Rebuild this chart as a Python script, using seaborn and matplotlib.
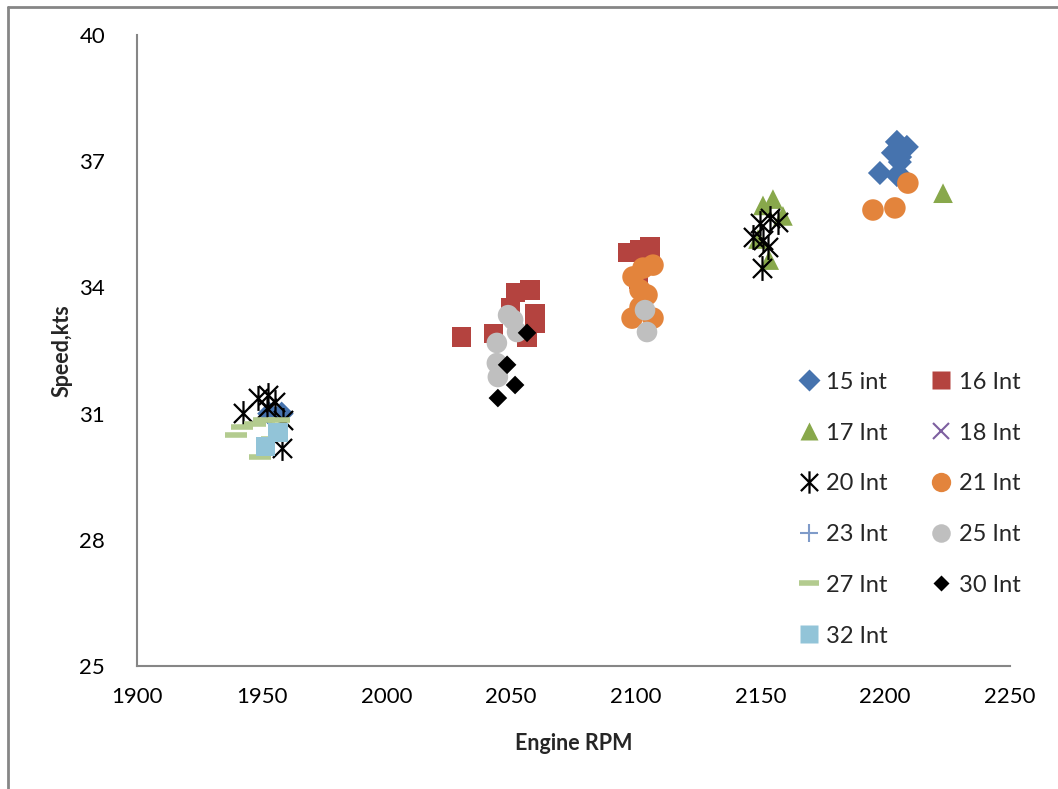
import numpy as np
import pandas as pd
import seaborn as sns
import matplotlib.pyplot as plt
from matplotlib.path import Path
from matplotlib.lines import Line2D

# series: engine rpm / speed in knots
rpm15 = [1953, 1958, 2204.7, 2208.7, 2203.1, 2205.9, 2197.9, 2204.7, 2207.1, 2206]
spd15 = [31.0, 31.0, 37.46, 37.34, 37.2, 36.98, 36.72, 36.67, 36.6, 37.1]

rpm16 = [2030, 2043, 2049.6, 2051.6, 2057.6, 2059.6, 2059.6, 2056.4, 2096.9, 2101.7, 2105.7, 2101]
spd16 = [32.82, 32.9, 33.53, 33.87, 33.94, 33.39, 33.15, 32.8, 34.82, 34.89, 34.96, 34.18]

rpm17 = [2155, 2151, 2159, 2153.5, 2149, 2223.2]
spd17 = [36.1, 35.95, 35.7, 34.65, 35.15, 36.24]

rpm18 = []
spd18 = []

rpm20 = [1942.5, 1948.5, 1952.5, 1955.3, 1952.1, 1958.5, 1958.1,
         2147, 2149.8, 2153.8, 2157, 2151, 2153, 2150.6]
spd20 = [31.01, 31.37, 31.44, 31.28, 31.13, 30.85, 30.18,
         35.2, 35.53, 35.65, 35.56, 35.13, 34.96, 34.46]

rpm21 = [2098.9, 2102.9, 2106.9, 2101.7, 2104.5, 2101.7, 2098.5, 2106.9, 2209.1, 2195.1, 2203.9]
spd21 = [34.25, 34.46, 34.53, 33.94, 33.82, 33.53, 33.27, 33.27, 36.48, 35.84, 35.89]

rpm23 = []
spd23 = []

rpm25 = [2048.8, 2052.4, 2044.3, 2044.3, 2044.7, 2050.8, 2103.7, 2104.5]
spd25 = [33.34, 32.94, 32.68, 32.2, 31.87, 33.23, 33.46, 32.94]

rpm27 = [1939.5, 1942, 1947.5, 1951, 1957, 1949.5, 1954]
spd27 = [30.5, 30.68, 30.75, 30.85, 30.85, 29.98, 30.4]

rpm30 = [2056.4, 2048.4, 2051.6, 2044.7]
spd30 = [32.92, 32.16, 31.68, 31.37]

rpm32 = [1951.5, 1956.5]
spd32 = [30.22, 30.55]

labels = ['15 int', '16 Int', '17 Int', '18 Int', '20 Int', '21 Int',
          '23 Int', '25 Int', '27 Int', '30 Int', '32 Int']

# asterisk marker (x with a vertical bar)
asterisk = Path([(-1, -1), (1, 1), (-1, 1), (1, -1), (0, -1.3), (0, 1.3)],
                [Path.MOVETO, Path.LINETO, Path.MOVETO, Path.LINETO, Path.MOVETO, Path.LINETO])

series = [
    (rpm15, spd15, 'D', '#4673AE', 150, 0),
    (rpm16, spd16, 's', '#B4433F', 190, 0),
    (rpm17, spd17, '^', '#88A84B', 200, 0),
    (rpm18, spd18, 'x', '#7D5FA0', 170, 1.5),
    (rpm20, spd20, asterisk, 'black', 320, 1.6),
    (rpm21, spd21, 'o', '#E3843C', 240, 0),
    (rpm23, spd23, '+', '#7F9BC9', 220, 1.5),
    (rpm25, spd25, 'o', '#BFBFBF', 220, 0),
    (rpm27, spd27, '_', '#B3CB8F', 260, 4),
    (rpm30, spd30, 'D', 'black', 90, 0),
    (rpm32, spd32, 's', '#92C4D8', 200, 0),
]

sns.set_style('white')
plt.rcParams['font.family'] = ['Lato', 'DejaVu Sans']

fig = plt.figure(figsize=(10.58, 7.89), dpi=100)
ax = fig.add_axes([0.1295, 0.1559, 0.825, 0.7997])

handles = []
for (x, y, mk, col, s, lw), lab in zip(series, labels):
    if len(x) > 0:
        df = pd.DataFrame({'rpm': x, 'speed': y})
        if lw > 0:
            sns.scatterplot(data=df, x='rpm', y='speed', marker=mk, s=s, color=col,
                            edgecolor=col, linewidth=lw, ax=ax, legend=False)
        else:
            sns.scatterplot(data=df, x='rpm', y='speed', marker=mk, s=s, color=col,
                            edgecolor='none', linewidth=0, ax=ax, legend=False)
    ms = np.sqrt(s) * 0.9
    if lw > 0:
        h = Line2D([], [], linestyle='none', marker=mk, markersize=ms,
                   markeredgecolor=col, markerfacecolor=col, markeredgewidth=lw)
    else:
        h = Line2D([], [], linestyle='none', marker=mk, markersize=ms,
                   markerfacecolor=col, markeredgecolor='none')
    handles.append(h)

ax.set_xlim(1900, 2250)
ax.set_ylim(25, 40)
ax.set_xticks(np.arange(1900, 2251, 50))
ax.set_yticks([25, 28, 31, 34, 37, 40])
ax.set_xlabel('Engine RPM', fontsize=15.5, fontweight='bold', labelpad=19)
ax.set_ylabel('Speed,kts', fontsize=15.5, fontweight='bold', labelpad=5)

for side in ['top', 'right']:
    ax.spines[side].set_visible(False)
for side in ['left', 'bottom']:
    ax.spines[side].set_color('#868686')
    ax.spines[side].set_linewidth(1.5)
ax.tick_params(axis='both', direction='out', length=6, width=1.5, color='#868686',
               labelsize=16, labelcolor='black')
ax.tick_params(axis='x', pad=9)
ax.tick_params(axis='y', pad=17)

# legend is filled row by row in the reference: reorder for column filling
order = [0, 2, 4, 6, 8, 10, 1, 3, 5, 7, 9]
ax.legend([handles[i] for i in order], [labels[i] for i in order], ncol=2,
          loc='upper left', bbox_to_anchor=(0.733, 0.5),
          frameon=False, fontsize=17, labelspacing=1.26, columnspacing=1.8,
          handlelength=0.9, handletextpad=0.3)

# outer chart frame (top and left edges)
fig.add_artist(Line2D([8 / 1058, 1], [1 - 7 / 789, 1 - 7 / 789], color='#868686', lw=2,
                      transform=fig.transFigure))
fig.add_artist(Line2D([8 / 1058, 8 / 1058], [0, 1 - 7 / 789], color='#868686', lw=2,
                      transform=fig.transFigure))

fig.savefig('out.png', dpi=100)
